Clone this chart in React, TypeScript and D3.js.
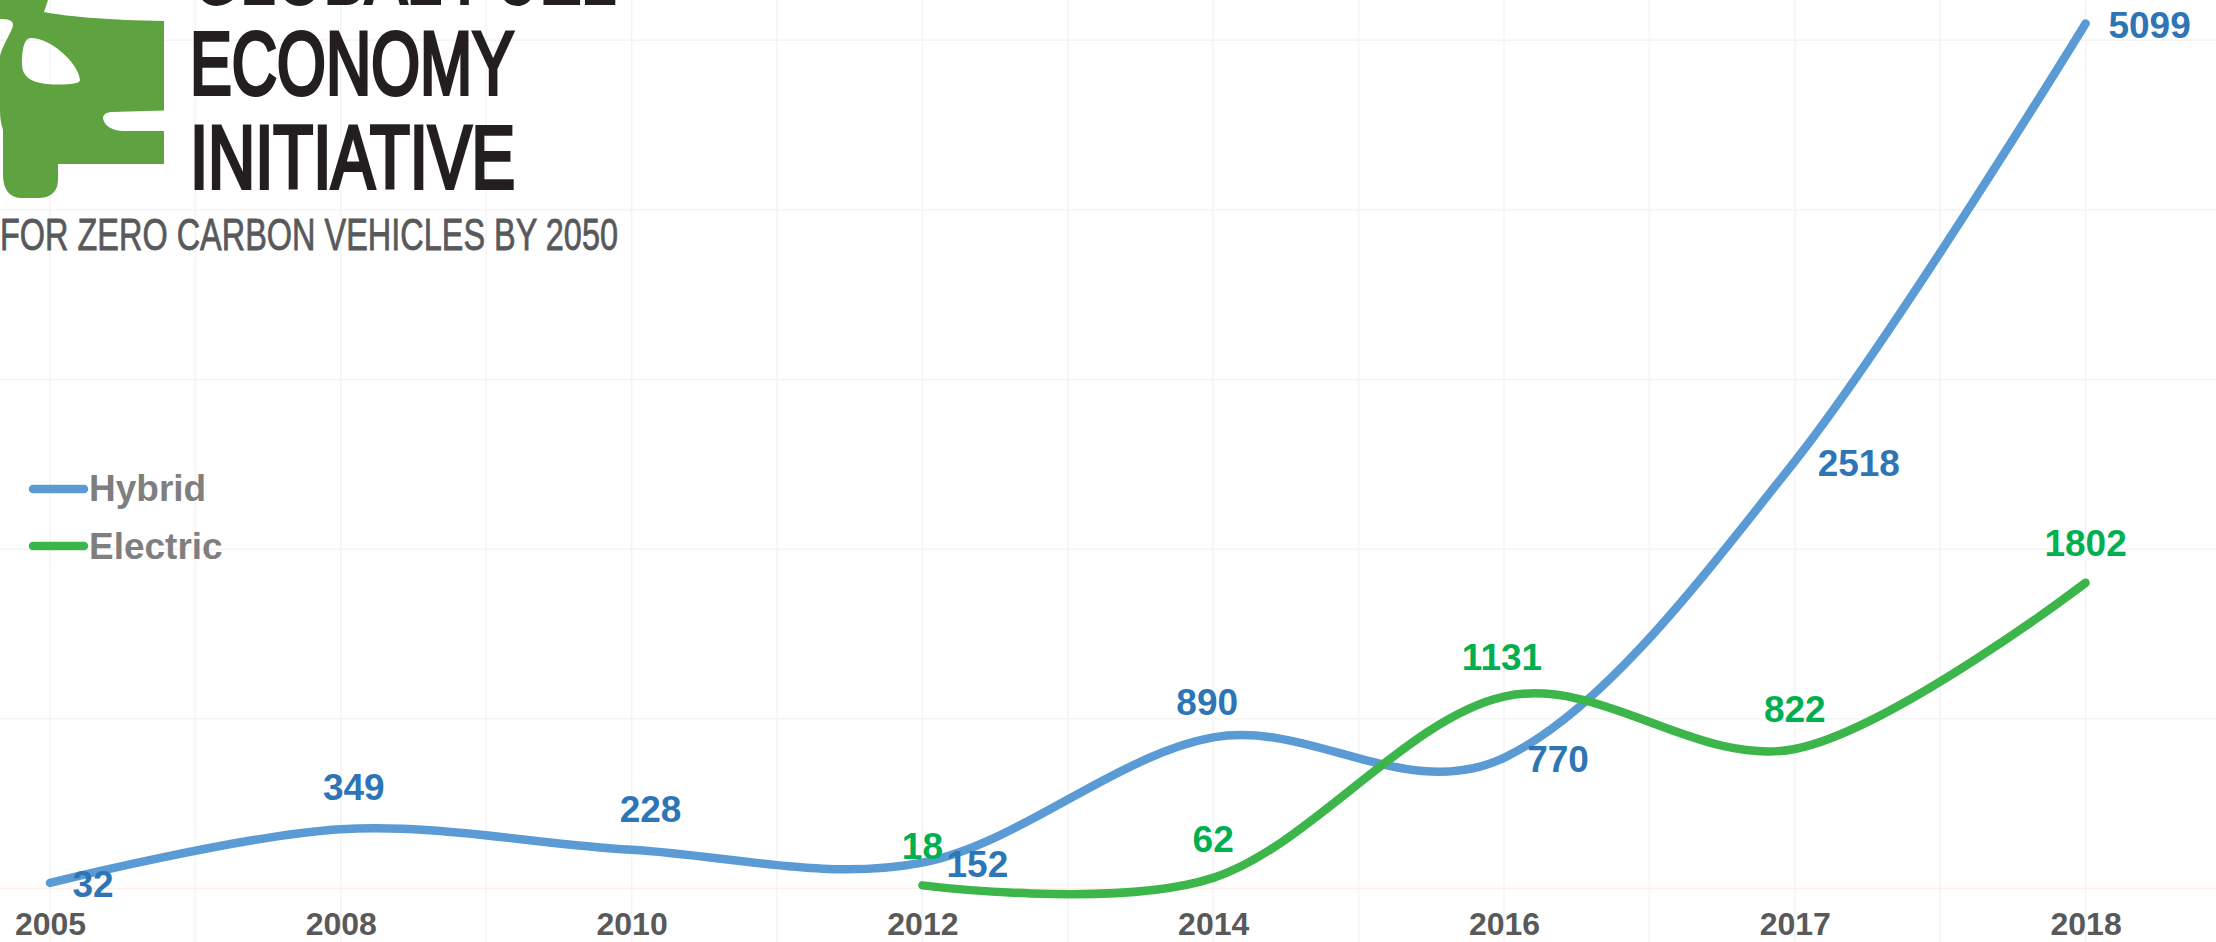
import React, { useRef, useEffect } from "react";
import * as d3 from "d3";

// data
const categories = ["2005", "2008", "2010", "2012", "2014", "2016", "2017", "2018"];
const hybridValues = [32, 349, 228, 152, 890, 770, 2518, 5099];
const electricCategories = ["2012", "2014", "2016", "2017", "2018"];
const electricValues = [18, 62, 1131, 822, 1802];
const valueTicks = [0, 1000, 2000, 3000, 4000, 5000];

// label nudges, same order as the values
const hybridNudge = [[43, 14], [13, -29], [19, -28], [55, 14], [-6, -22], [54, 14], [64, 15], [64, 14]];
const electricNudge = [[0, -26], [0, -26], [-2, -27], [0, -27], [0, -27]];

const font = "'Liberation Sans', Arial, sans-serif";
const colors = {
  hybrid: "#5b9bd5",
  hybridText: "#2e75b6",
  electric: "#3cb54a",
  electricText: "#00b050",
  grid: "#f4f4f4",
  zero: "#fdf0e8",
  tick: "#595959",
  legend: "#7f7f7f",
  logo: "#5fa340",
  logoText: "#231f20",
  logoSub: "#58595b",
};

const carPath =
  "M0,0 L48,0 L44,12 C70,17 110,20 164,21 L164,110.5 L112,112 C105,112 103,116 103,118 C104,125 110,130 122,131 L164,131 L164,164 L58,164 L58,180 C58,192 50,198 38,198 L22,198 C10,198 3,190 3,175 L3,130 C1,124 0,118 0,110 L0,56 C3,44 13,30 13,25 C13,20 8,19 0,19 Z " +
  "M31,38 C24,38 22,50 22,64 C22,76 30,82 46,84 C60,85 80,85 80,80 C78,62 50,38 31,38 Z";

const logoLines = [
  { text: "GLOBAL FUEL", x: 192, y: 3, len: 424, size: 89, stroke: 4, fill: colors.logoText },
  { text: "ECONOMY", x: 190, y: 94, len: 324, size: 89, stroke: 4, fill: colors.logoText },
  { text: "INITIATIVE", x: 190, y: 188, len: 325, size: 89, stroke: 4, fill: colors.logoText },
  { text: "FOR ZERO CARBON VEHICLES BY 2050", x: 0, y: 250, len: 618, size: 45, stroke: 0.8, fill: colors.logoSub },
];

export default function App() {
  const ref = useRef<SVGSVGElement>(null);

  useEffect(() => {
    const width = 2216;
    const height = 942;

    const svg = d3.select(ref.current);
    svg.selectAll("*").remove();
    svg.attr("width", width).attr("height", height)
      .style("position", "absolute").style("left", 0).style("top", 0)
      .style("background", "#fff").style("font-family", font);

    const x = d3.scalePoint<string>().domain(categories).range([50, 2085.6]);
    const y = d3.scaleLinear().domain([0, 5000]).range([888.4, 40.3]);
    const step = x.step();

    // grid, verticals sit on and between the categories
    const gridX = categories.flatMap(c => [x(c)!, x(c)! + step / 2]);
    svg.append("g").selectAll("line").data(gridX).join("line")
      .attr("x1", d => d).attr("x2", d => d)
      .attr("y1", 0).attr("y2", height)
      .attr("stroke", colors.grid).attr("stroke-width", 1.5);
    svg.append("g").selectAll("line").data(valueTicks).join("line")
      .attr("x1", 0).attr("x2", width)
      .attr("y1", d => y(d)).attr("y2", d => y(d))
      .attr("stroke", d => (d === 0 ? colors.zero : colors.grid))
      .attr("stroke-width", 1.5);

    // logo
    const logo = svg.append("g");
    logo.append("path").attr("d", carPath).attr("fill", colors.logo).attr("fill-rule", "evenodd");
    logo.selectAll("text").data(logoLines).join("text")
      .attr("x", d => d.x).attr("y", d => d.y)
      .attr("font-size", d => d.size)
      .attr("fill", d => d.fill)
      .attr("stroke", d => d.fill).attr("stroke-width", d => d.stroke)
      .attr("textLength", d => d.len).attr("lengthAdjust", "spacingAndGlyphs")
      .text(d => d.text);

    // x labels
    svg.append("g")
      .attr("transform", "translate(0,888.4)")
      .call(d3.axisBottom(x).tickSize(0).tickPadding(24))
      .call(g => g.select(".domain").remove())
      .call(g => g.selectAll("text")
        .attr("font-size", 32).attr("font-weight", 700)
        .attr("font-family", font).attr("fill", colors.tick));

    // lines
    const line = d3.line<[string, number]>()
      .x(d => x(d[0])!)
      .y(d => y(d[1]))
      .curve(d3.curveCatmullRom.alpha(0));

    const series = [
      { cats: categories, values: hybridValues, nudge: hybridNudge, color: colors.hybrid, text: colors.hybridText },
      { cats: electricCategories, values: electricValues, nudge: electricNudge, color: colors.electric, text: colors.electricText },
    ];

    series.forEach(s => {
      const pts = s.cats.map((c, i) => [c, s.values[i]] as [string, number]);
      svg.append("path")
        .attr("d", line(pts))
        .attr("fill", "none")
        .attr("stroke", s.color)
        .attr("stroke-width", 8.5)
        .attr("stroke-linecap", "round");
    });

    series.forEach(s => {
      svg.append("g").selectAll("text").data(s.values).join("text")
        .attr("x", (d, i) => x(s.cats[i])! + s.nudge[i][0])
        .attr("y", (d, i) => y(d) + s.nudge[i][1])
        .attr("text-anchor", "middle")
        .attr("font-size", 37).attr("font-weight", 700)
        .attr("fill", s.text)
        .text(d => d);
    });

    // legend
    const legend = svg.append("g");
    [
      { name: "Hybrid", color: colors.hybrid, ly: 489, ty: 501 },
      { name: "Electric", color: colors.electric, ly: 546, ty: 559 },
    ].forEach(d => {
      legend.append("line")
        .attr("x1", 33).attr("x2", 84)
        .attr("y1", d.ly).attr("y2", d.ly)
        .attr("stroke", d.color).attr("stroke-width", 8.5)
        .attr("stroke-linecap", "round");
      legend.append("text")
        .attr("x", 89).attr("y", d.ty)
        .attr("font-size", 37).attr("font-weight", 700)
        .attr("fill", colors.legend)
        .text(d.name);
    });
  }, []);

  return <svg ref={ref}></svg>;
}
